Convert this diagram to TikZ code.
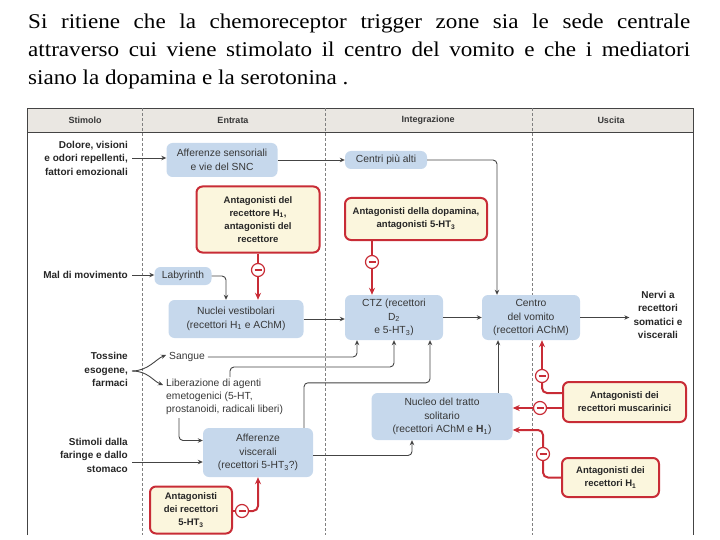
\documentclass[tikz,border=0pt]{standalone}
\usepackage{fontspec}
\setmainfont{Liberation Sans}
\newfontfamily\titlefont[FakeStretch=1.1]{Liberation Serif}
\usetikzlibrary{arrows.meta, calc}
\definecolor{boxblue}  {RGB}{198,216,236}
\definecolor{antired}  {RGB}{200, 44, 54}
\definecolor{antifill} {RGB}{251,246,221}
\definecolor{headgray} {RGB}{234,231,226}
\definecolor{linegray} {RGB}{ 68, 68, 68}
\definecolor{txtgray}  {RGB}{ 55, 55, 55}
\tikzset{
  frame line/.style = {linegray, line width=0.9pt},
  col line/.style   = {gray, dash pattern=on 3pt off 2pt, line width=0.8pt},
  head label/.style = {inner sep=0pt, text=txtgray, font=\fontsize{9}{11}\selectfont\bfseries},
  blue box/.style   = {rectangle, rounded corners=6pt, fill=boxblue, text=txtgray, align=center,
                       inner sep=0pt, font=\fontsize{10.3}{13.5}\selectfont},
  red box/.style    = {rectangle, rounded corners=6pt, draw=antired, line width=2pt, fill=antifill,
                       text=black!85, align=center, inner sep=0pt, font=\fontsize{9.5}{13}\selectfont\bfseries},
  stim label/.style = {anchor=east, align=right, inner sep=0pt, text=black!85,
                       font=\fontsize{10}{13.5}\selectfont\bfseries},
  plain label/.style= {inner sep=0pt, text=txtgray, font=\fontsize{10.3}{13}\selectfont},
  flow line/.style  = {linegray, line width=0.9pt, rounded corners=4pt, -{Stealth[length=5pt, width=4.5pt]}},
  red line/.style   = {antired, line width=2pt, rounded corners=5pt},
  red arrow/.style  = {red line, -{Stealth[length=7pt, width=6pt]}},
  inhib dot/.style  = {circle, draw=antired, line width=1.2pt, fill=white, minimum size=13pt, inner sep=0pt,
                       path picture={\draw[antired, line width=1.4pt]
                         ([xshift=-3.5pt]path picture bounding box.center) --
                         ([xshift=3.5pt]path picture bounding box.center);}},
}

\begin{document}
\begin{tikzpicture}[x=1pt, y=-1pt]
  \useasboundingbox (0,0) rectangle (720,540);

  % ── intro text ─────────────────────────────────────────────────────────────
  \node[anchor=base west, inner sep=0pt, text width=662pt, align=justify,
        font=\titlefont\fontsize{21}{28}\selectfont] (intro) at (28,29)
    {Si ritiene che la chemoreceptor trigger zone sia le sede centrale\linebreak
     attraverso cui viene stimolato il centro del vomito e che i mediatori\linebreak
     siano la dopamina e la serotonina .};

  % ── table frame ────────────────────────────────────────────────────────────
  \fill[headgray] (27,108) rectangle (693,132);
  \draw[frame line] (27,535) -- (27,108) -- (693,108) -- (693,535);
  \draw[frame line] (27,132) -- (693,132);
  \foreach \cx in {142,325,532}
    \draw[col line] (\cx,108) -- (\cx,535);

  \node[head label] (hstim)  at (85,120)  {Stimolo};
  \node[head label] (hentr)  at (233,120) {Entrata};
  \node[head label] (hinteg) at (428,120) {Integrazione};
  \node[head label] (husc)   at (611,120) {Uscita};

  % ── Stimolo ────────────────────────────────────────────────────────────────
  \node[stim label] (dolore)  at (128,158)   {Dolore, visioni\\e odori repellenti,\\fattori emozionali};
  \node[stim label] (maldimov) at (128,275)  {Mal di movimento};
  \node[stim label] (tossine) at (128,369.5) {Tossine\\esogene,\\farmaci};
  \node[stim label] (stimoli) at (128,455)   {Stimoli dalla\\faringe e dallo\\stomaco};

  % ── Entrata ────────────────────────────────────────────────────────────────
  \node[blue box, minimum width=111pt, minimum height=34pt] (affsens) at (222,160)
    {Afferenze sensoriali\\e vie del SNC};
  \node[red box, minimum width=123pt, minimum height=66pt] (antHa) at (258,219.5)
    {Antagonisti del\\recettore H\textsubscript{1},\\antagonisti del\\recettore};
  \node[blue box, minimum width=57pt, minimum height=18pt] (labyr) at (183,276) {Labyrinth};
  \node[blue box, minimum width=135pt, minimum height=38pt] (nuclei) at (236,319)
    {Nuclei vestibolari\\(recettori H\textsubscript{1} e AChM)};
  \node[plain label] (sangue) at (187,357) {Sangue};
  \node[plain label, anchor=north west, align=left] (liberaz) at (166,379)
    {Liberazione di agenti\\emetogenici (5-HT,\\prostanoidi, radicali liberi)};
  \node[blue box, minimum width=110pt, minimum height=49pt] (affvisc) at (258,452.5)
    {Afferenze\\viscerali\\(recettori 5-HT\textsubscript{3}?)};
  \node[red box, minimum width=82pt, minimum height=47pt] (antHT) at (191,510)
    {Antagonisti\\dei recettori\\5-HT\textsubscript{3}};

  % ── Integrazione ───────────────────────────────────────────────────────────
  \node[blue box, minimum width=82pt, minimum height=18pt] (centri) at (386,160) {Centri più alti};
  \node[red box, minimum width=142pt, minimum height=42pt] (antDopa) at (416,219)
    {Antagonisti della dopamina,\\antagonisti 5-HT\textsubscript{3}};
  \node[blue box, minimum width=98pt, minimum height=45pt] (ctz) at (394,317.5)
    {CTZ (recettori\\D\textsubscript{2}\\e 5-HT\textsubscript{3})};
  \node[blue box, minimum width=98pt, minimum height=45pt] (vomito) at (531,317.5)
    {Centro\\del vomito\\(recettori AChM)};
  \node[blue box, minimum width=141pt, minimum height=47pt] (nts) at (442,416.5)
    {Nucleo del tratto\\solitario\\(recettori AChM e \textbf{H}\textsubscript{1})};

  % ── Uscita ─────────────────────────────────────────────────────────────────
  \node[stim label, anchor=center, align=center] (nervi) at (658,315)
    {Nervi a\\recettori\\somatici e\\viscerali};
  \node[red box, minimum width=123pt, minimum height=40pt] (antMusc) at (624.5,402)
    {Antagonisti dei\\recettori muscarinici};
  \node[red box, minimum width=97pt, minimum height=39pt] (antHb) at (610.5,477.5)
    {Antagonisti dei\\recettori H\textsubscript{1}};

  % inhibition marks
  \node[inhib dot] (inHa)   at (258,270) {};
  \node[inhib dot] (inDopa) at (372,262) {};
  \node[inhib dot] (inMa)   at (542,376) {};
  \node[inhib dot] (inMb)   at (540,408) {};
  \node[inhib dot] (inHb)   at (543,454) {};
  \node[inhib dot] (inHT)   at (242,511) {};

  % ── connectors ─────────────────────────────────────────────────────────────
  \draw[flow line] ([xshift=4pt]dolore.east) -- (dolore.east -| affsens.west);
  \draw[flow line] (affsens.east) -- (centri.west);
  \draw[flow line] (centri.east) -| ([xshift=-34pt]vomito.north);
  \draw[flow line] ([xshift=4pt]maldimov.east) -- (maldimov.east -| labyr.west);
  \draw[flow line] (labyr.east) -| ([xshift=-10pt]nuclei.north);
  \draw[flow line] (nuclei.east) -- (nuclei.east -| ctz.west);
  \draw[flow line] (ctz.east) -- (vomito.west);
  \draw[flow line] (vomito.east) -- ([xshift=-4pt]vomito.east -| nervi.west);

  \draw[flow line] ($(tossine.east)+(4,1.5)$) .. controls +(16,0) and +(-10,4) .. ([xshift=-3pt,yshift=2pt]sangue.west);
  \draw[flow line] ($(tossine.east)+(4,1.5)$) .. controls +(16,0) and +(-10,-4) .. ($(liberaz.north west)+(-3,6)$);
  \draw[flow line] ([xshift=3pt]sangue.east) -| ([xshift=-37pt]ctz.south);
  \draw[flow line] ($(liberaz.north west)+(64,-2)$) -- ++(0,-10) -| (ctz.south);
  \draw[flow line] ($(liberaz.south west)+(13,3)$) |- ([yshift=12pt]affvisc.west);
  \draw[flow line] ([xshift=4pt,yshift=-7pt]stimoli.east) -- ([yshift=-7pt]stimoli.east -| affvisc.west);
  \draw[flow line] ([xshift=46pt]affvisc.north) |- ++(126,-45) -- ([xshift=36pt]ctz.south);
  \draw[flow line] ([yshift=-3pt]affvisc.east) -| ([xshift=-30pt]nts.south);
  \draw[flow line] ([xshift=56pt]nts.north) -- ([xshift=56pt]nts.north |- vomito.south);

  % antagonists
  \draw[red line]  (inHa |- antHa.south) -- (inHa);
  \draw[red arrow] (inHa) -- (inHa |- nuclei.north);
  \draw[red line]  (inDopa |- antDopa.south) -- (inDopa);
  \draw[red arrow] (inDopa) -- (inDopa |- ctz.north);
  \draw[red line]  ([yshift=9pt]antMusc.west) -| (inMa);
  \draw[red arrow] (inMa) -- (inMa |- vomito.south);
  \draw[red line]  (inMb -| antMusc.west) -- (inMb);
  \draw[red arrow] (inMb) -- (inMb -| nts.east);
  \draw[red line]  (antHb.west) -| (inHb);
  \draw[red arrow] (inHb) |- ([yshift=-13.5pt]nts.east);
  \draw[red line]  (antHT.east |- inHT) -- (inHT);
  \draw[red arrow] (inHT) -| (affvisc.south);

\end{tikzpicture}
\end{document}
